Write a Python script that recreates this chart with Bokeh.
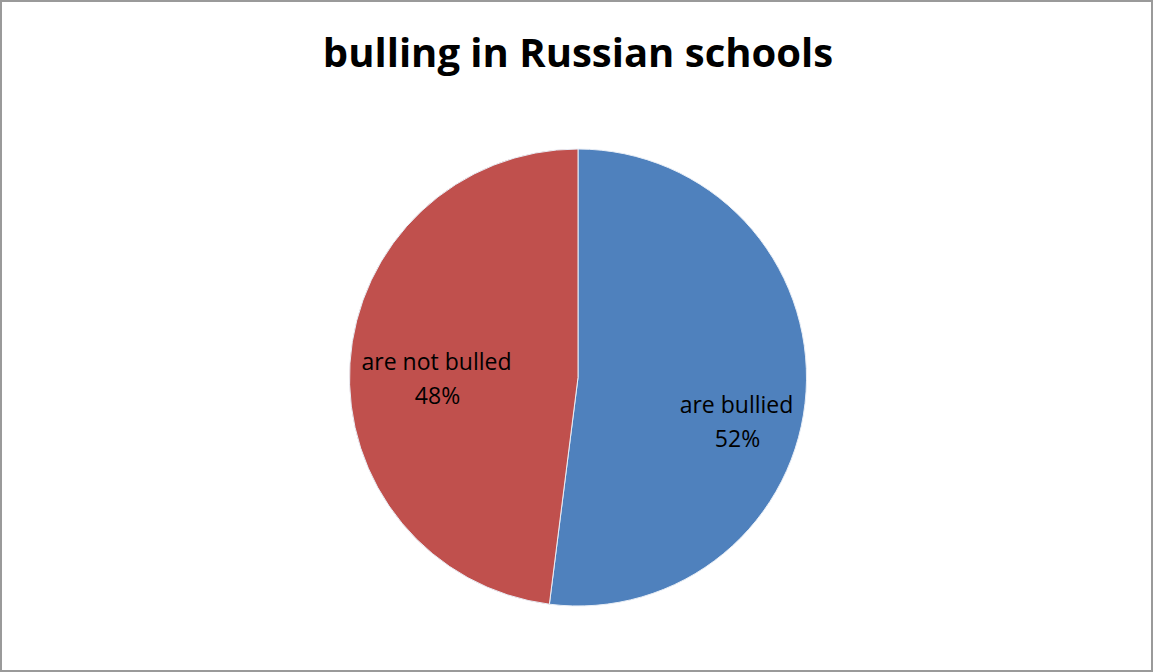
import math
from bokeh.plotting import figure
from bokeh.models import Range1d, ColumnDataSource
from bokeh.core.properties import value
from bokeh.embed import file_html
from bokeh.resources import INLINE

categories = ["are bullied", "are not bulled"]
shares = [52, 48]
colors = ["#4F81BD", "#C0504D"]
title_text = "bulling in Russian schools"

W, H = 1153, 672
p = figure(width=W, height=H, output_backend="svg", toolbar_location=None,
           x_range=Range1d(0, W), y_range=Range1d(0, H), min_border=0)
p.axis.visible = False
p.grid.visible = False
p.outline_line_color = "#9a9a9a"
p.outline_line_width = 3
p.background_fill_color = "white"
p.border_fill_color = "white"

cx, cy, r = 577.5, H - 377, 228.5
total = sum(shares)
starts, ends = [], []
acc = 0.0
for s in shares:
    # clockwise from 12 o'clock
    a0 = math.pi / 2 - 2 * math.pi * acc / total
    acc += s
    a1 = math.pi / 2 - 2 * math.pi * acc / total
    starts.append(a1)
    ends.append(a0)

src = ColumnDataSource(dict(start=starts, end=ends, color=colors, cat=categories))
p.wedge(x=cx, y=cy, radius=r, start_angle="start", end_angle="end",
        fill_color="color", line_color="#e8eef6", line_width=1, source=src)

# labels
label_pos = [(736, H - 403), (436, H - 360)]
for (lx, ly), cat, s in zip(label_pos, categories, shares):
    p.text(x=[lx], y=[ly], text=[cat], text_align="center", text_baseline="middle",
           text_font=value("Open Sans"), text_font_size="23px", text_color="#000000")
    p.text(x=[lx + 1], y=[ly - 34], text=[f"{s}%"], text_align="center", text_baseline="middle",
           text_font=value("Open Sans"), text_font_size="23px", text_color="#000000")

p.text(x=[W / 2 + 1], y=[H - 51], text=[title_text], text_align="center", text_baseline="middle",
       text_font=value("Open Sans"), text_font_style="bold", text_font_size="40px",
       text_color="#000000")

open("out.html", "w").write(file_html(p, INLINE))
